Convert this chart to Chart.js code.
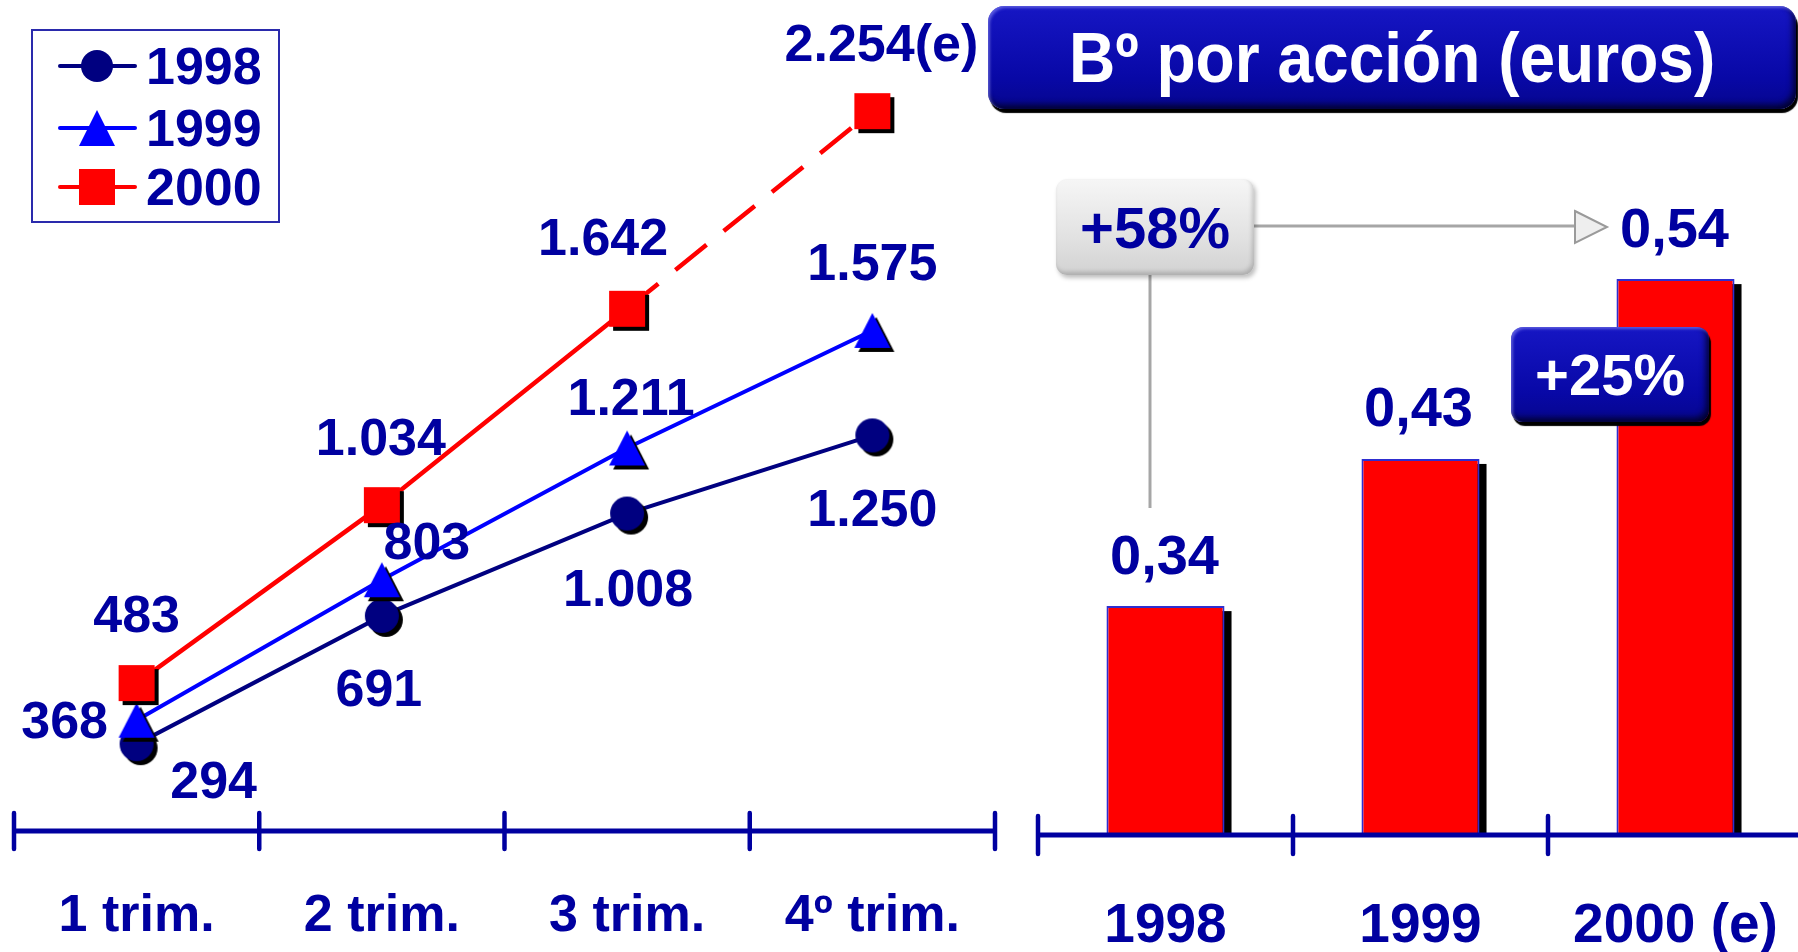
<!DOCTYPE html>
<html lang="es">
<head>
<meta charset="utf-8">
<title>Beneficio por acción</title>
<script src="https://cdn.jsdelivr.net/npm/chart.js@4.4.1/dist/chart.umd.min.js"></script>
<style>
  html, body { margin:0; padding:0; background:#fff; }
  body { width:1798px; height:952px; overflow:hidden; position:relative;
         font-family:"Liberation Sans", Arial, sans-serif; font-weight:bold; }
  #trimestres { position:absolute; left:0; top:0; }
  #anual { position:absolute; left:1000px; top:0; }
  .leyenda { position:absolute; left:31px; top:29px; width:245px; height:190px;
             border:2px solid #2a2aac; }
  .fila { position:absolute; left:0; height:60px; width:240px; }
  .fila svg { position:absolute; left:25px; top:10px; }
  .fila span { position:absolute; left:113px; top:0; line-height:60px; font-size:52px; color:#0000a0; }
  .titulo { position:absolute; left:988px; top:6px; width:808px; height:103px; border-radius:16px;
            background:linear-gradient(#1616c4, #0808a6 70%, #06068e);
            box-shadow: inset 2px 2px 3px rgba(150,150,255,.55), inset -3px -4px 6px rgba(0,0,30,.85), 2px 4px 1px #000;
            display:flex; align-items:center; justify-content:center; }
  .titulo span { color:#fff; font-size:70px; transform:scaleX(.915); white-space:nowrap; }
  .caja { position:absolute; display:flex; align-items:center; justify-content:center; font-size:58px; }
  .gris { left:1056px; top:179px; width:198px; height:96px; border-radius:11px; color:#0000a0;
          background:linear-gradient(#f6f6f6, #e2e2e2 60%, #d2d2d2);
          box-shadow: inset -2px -3px 4px rgba(0,0,0,.18), 2px 3px 4px rgba(0,0,0,.25); }
  .azul { left:1511px; top:327px; width:198px; height:95px; border-radius:12px; color:#fff;
          background:linear-gradient(#1616c4, #0808a6 70%, #06068e);
          box-shadow: inset 2px 2px 3px rgba(150,150,255,.55), inset -3px -4px 6px rgba(0,0,30,.85), 2px 4px 1px #000; }
  #conector { position:absolute; left:0; top:0; }
</style>
</head>
<body>
<canvas id="trimestres" width="1010" height="952"></canvas>
<canvas id="anual" width="806" height="952"></canvas>

<div class="leyenda">
  <div class="fila" style="top:5px">
    <svg width="80" height="40"><line x1="2" y1="20" x2="77" y2="20" stroke="#000080" stroke-width="4" stroke-linecap="round"/><circle cx="39" cy="20" r="16" fill="#000080"/></svg>
    <span>1998</span>
  </div>
  <div class="fila" style="top:67px">
    <svg width="80" height="40"><line x1="2" y1="20" x2="77" y2="20" stroke="#0000ff" stroke-width="4" stroke-linecap="round"/><polygon points="39,2 57,38 21,38" fill="#0000ff"/></svg>
    <span>1999</span>
  </div>
  <div class="fila" style="top:126px">
    <svg width="80" height="40"><line x1="2" y1="20" x2="77" y2="20" stroke="#ff0000" stroke-width="4" stroke-linecap="round"/><rect x="21" y="2" width="36" height="36" fill="#ff0000"/></svg>
    <span>2000</span>
  </div>
</div>

<svg id="conector" width="1798" height="952">
  <line x1="1150" y1="270" x2="1150" y2="508" stroke="#a6a6a6" stroke-width="3"/>
  <line x1="1250" y1="226" x2="1576" y2="226" stroke="#a6a6a6" stroke-width="3"/>
  <polygon points="1575,211 1607,227 1575,243" fill="#eeeeee" stroke="#9a9a9a" stroke-width="2"/>
</svg>

<div class="titulo"><span>Bº por acción (euros)</span></div>
<div class="caja gris">+58%</div>
<div class="caja azul">+25%</div>

<script>
// ---- Beneficio trimestral acumulado (línea) ----
const trimestres = ['1 trim.', '2 trim.', '3 trim.', '4º trim.'];
const serie1998 = [294, 691, 1008, 1250];
const serie1999 = [368, 803, 1211, 1575];
const serie2000 = [483, 1034, 1642, 2254];
const sufijos2000 = ['', '', '', '(e)'];   // 4º trimestre de 2000 estimado

// ---- Beneficio por acción anual (barras) ----
const anios = ['1998', '1999', '2000 (e)'];
const bpa = [0.34, 0.43, 0.54];

const AZUL_TEXTO = '#0000a0';
const FUENTE = '"Liberation Sans", Arial, sans-serif';

// Marcadores con sombra negra desplazada
function marcador(forma, color, ancho, alto, sombra) {
  const pad = sombra + 2;
  const c = document.createElement('canvas');
  c.width = Math.ceil(ancho + 2 * pad);
  c.height = Math.ceil(alto + 2 * pad);
  const g = c.getContext('2d');
  const cx = c.width / 2, cy = c.height / 2;
  const trazo = (ox, oy, relleno) => {
    g.fillStyle = relleno;
    g.beginPath();
    if (forma === 'circulo') {
      g.arc(cx + ox, cy + oy, ancho / 2, 0, Math.PI * 2);
    } else if (forma === 'triangulo') {
      g.moveTo(cx + ox, cy + oy - alto / 2);
      g.lineTo(cx + ox + ancho / 2, cy + oy + alto / 2);
      g.lineTo(cx + ox - ancho / 2, cy + oy + alto / 2);
      g.closePath();
    } else {
      g.rect(cx + ox - ancho / 2, cy + oy - alto / 2, ancho, alto);
    }
    g.fill();
  };
  trazo(sombra, sombra, '#000');
  trazo(0, 0, color);
  return c;
}

const miles = v => String(v).replace(/\B(?=(\d{3})+(?!\d))/g, '.');
const decimal = v => v.toFixed(2).replace('.', ',');

// Eje horizontal con marcas que cruzan la línea
const ejeConMarcas = {
  id: 'ejeConMarcas',
  afterDatasetsDraw(chart, args, o) {
    const { ctx, chartArea } = chart;
    const xs = chart.scales.x;
    const n = xs.ticks.length;
    const paso = (xs.right - xs.left) / n;
    const y = chartArea.bottom;
    ctx.save();
    ctx.strokeStyle = AZUL_TEXTO;
    ctx.lineWidth = 5;
    ctx.lineCap = 'butt';
    ctx.beginPath();
    ctx.moveTo(xs.left, y);
    ctx.lineTo(xs.right, y);
    ctx.stroke();
    ctx.lineWidth = 4.5;
    ctx.lineCap = 'round';
    ctx.beginPath();
    for (let i = 0; i <= n; i++) {
      const x = xs.left + i * paso;
      ctx.moveTo(x, y - o.marca);
      ctx.lineTo(x, y + o.marca);
    }
    ctx.stroke();
    ctx.restore();
  }
};

// Rótulos de valor junto a cada marca
const rotulos = {
  id: 'rotulos',
  afterDatasetsDraw(chart, args, o) {
    const ctx = chart.ctx;
    ctx.save();
    ctx.fillStyle = AZUL_TEXTO;
    ctx.font = 'bold ' + o.tam + 'px ' + FUENTE;
    ctx.textAlign = 'center';
    ctx.textBaseline = 'alphabetic';
    chart.data.datasets.forEach((ds, di) => {
      const meta = chart.getDatasetMeta(di);
      meta.data.forEach((el, i) => {
        const [dx, dy] = o.desplaz[di][i];
        ctx.fillText(o.texto(ds.data[i], di, i), el.x + dx, el.y + dy + 0.358 * o.tam);
      });
    });
    ctx.restore();
  }
};

// Sombra negra de las barras
const sombraBarras = {
  id: 'sombraBarras',
  beforeDatasetDraw(chart, args) {
    const meta = args.meta;
    if (meta.type !== 'bar') return;
    const ctx = chart.ctx;
    const fondo = chart.chartArea.bottom;
    ctx.save();
    ctx.fillStyle = '#000';
    meta.data.forEach(el => {
      const { x, y, width } = el.getProps(['x', 'y', 'width'], true);
      ctx.fillRect(x - width / 2 + 7, y + 5, width, fondo - y - 5);
    });
    ctx.restore();
  }
};

// Eje de categorías: el interlineado de la fuente fija la distancia del rótulo al eje
const ejeX = (tam, interlineado, alto) => ({
  type: 'category',
  offset: true,
  grid: { display: false },
  border: { display: false },
  ticks: { color: AZUL_TEXTO, font: { family: FUENTE, size: tam, weight: 'bold', lineHeight: interlineado },
           padding: 0, autoSkip: false, maxRotation: 0 },
  afterFit: s => { s.height = alto; }
});

const ESTIMADO = 3;

new Chart(document.getElementById('trimestres'), {
  type: 'line',
  data: {
    labels: trimestres,
    datasets: [
      { label: '2000', data: serie2000, borderColor: '#ff0000', borderWidth: 4.5, order: 0,
        pointStyle: marcador('cuadrado', '#ff0000', 36, 36, 4), pointRadius: 18,
        segment: { borderDash: c => c.p1DataIndex === ESTIMADO ? [40, 22] : undefined } },
      { label: '1999', data: serie1999, borderColor: '#0000ff', borderWidth: 4, order: 1,
        pointStyle: marcador('triangulo', '#0000ff', 36, 35, 4), pointRadius: 18 },
      { label: '1998', data: serie1998, borderColor: '#000080', borderWidth: 4, order: 2,
        pointStyle: marcador('circulo', '#000080', 34, 34, 4), pointRadius: 17 }
    ]
  },
  options: {
    responsive: false,
    animation: false,
    layout: { autoPadding: false, padding: { left: 14, right: 15, top: 64, bottom: 0 } },
    scales: {
      x: ejeX(52, 2.99, 121),
      y: { display: false, min: 25, max: 2400 }
    },
    plugins: {
      legend: { display: false },
      tooltip: { enabled: false },
      ejeConMarcas: { marca: 18 },
      rotulos: {
        tam: 52,
        texto: (v, di, i) => miles(v) + (di === 0 ? sufijos2000[i] : ''),
        desplaz: [
          [[0, -70], [-1, -69], [-24, -72], [9, -69]],
          [[-72, -1], [45, -39], [4, -52], [0, -69]],
          [[77, 35], [-3, 71], [1, 74], [0, 72]]
        ]
      }
    }
  },
  plugins: [ejeConMarcas, rotulos]
});

new Chart(document.getElementById('anual'), {
  type: 'bar',
  data: {
    labels: anios,
    datasets: [
      { data: bpa, backgroundColor: '#ff0000', borderColor: '#2e2ed0', borderWidth: 2,
        categoryPercentage: 1, barPercentage: 0.463 }
    ]
  },
  options: {
    responsive: false,
    animation: false,
    layout: { autoPadding: false, padding: { left: 38, right: 3, top: 181, bottom: 0 } },
    scales: {
      x: ejeX(55, 3.04, 117),
      y: { display: false, min: 0.2, max: 0.6 }
    },
    plugins: {
      legend: { display: false },
      tooltip: { enabled: false },
      ejeConMarcas: { marca: 19 },
      rotulos: {
        tam: 56,
        texto: v => decimal(v),
        desplaz: [[[-1, -52], [-2, -53], [-1, -52]]]
      }
    }
  },
  plugins: [sombraBarras, ejeConMarcas, rotulos]
});
</script>
</body>
</html>
